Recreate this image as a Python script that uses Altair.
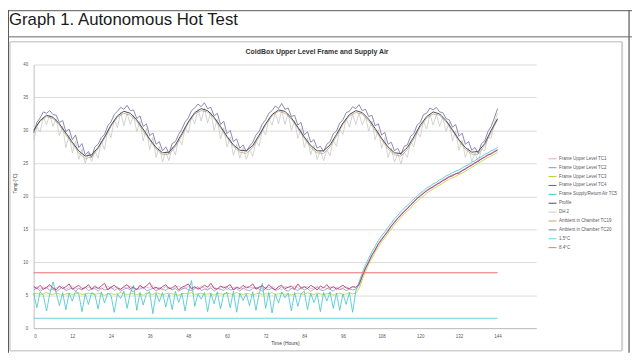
import altair as alt
import pandas as pd

# ---------------- data ----------------
HOURS = list(range(0, 145))          # hourly samples 0..144 h
HOURS_2 = list(range(0, 145, 2))     # 2-hourly samples
REF_HOURS = [0, 144]

TC1 = [6.1, 6.3, 5.9, 6.2, 6.0, 6.4, 5.8, 6.1, 6.3, 6.0,
       5.9, 6.2, 6.4, 6.0, 6.1, 5.8, 6.3, 6.2, 6.0, 6.5,
       6.1, 5.9, 6.2, 6.4, 6.0, 6.1, 6.3, 5.8, 6.2, 6.0,
       6.4, 6.1, 5.9, 6.3, 6.0, 6.2, 6.1, 6.5, 5.9, 6.2,
       6.0, 6.3, 6.1, 5.8, 6.2, 6.4, 6.0, 6.1, 6.3, 5.9,
       6.2, 6.0, 6.4, 6.1, 5.9, 6.3, 6.2, 6.0, 6.1, 6.4,
       5.8, 6.2, 6.1, 6.3, 6.0, 5.9, 6.4, 6.1, 6.2, 6.0,
       6.3, 5.9, 6.2, 6.1, 6.4, 6.0, 6.1, 5.8, 6.3, 6.2,
       6.0, 6.4, 6.1, 5.9, 6.2, 6.3, 6.0, 6.1, 6.4, 5.9,
       6.2, 6.0, 6.3, 6.1, 6.2, 5.9, 6.1, 6.3, 6.0, 6.2,
       6.1,
       6.7, 8.0, 9.2, 10.2, 11.1, 12.0, 12.8, 13.6, 14.2, 14.9,
       15.5, 16.2, 16.7, 17.3, 17.8, 18.3, 18.7, 19.3, 19.7, 20.2,
       20.5, 21.0, 21.2, 21.6, 21.8, 22.2, 22.4, 22.8, 23.0, 23.3,
       23.4, 23.7, 23.9, 24.3, 24.5, 24.9, 25.1, 25.5, 25.7, 26.1,
       26.3, 26.6, 26.8, 27.1]

TC2 = [5.8, 6.1, 5.6, 5.9, 6.2, 5.7, 6.0, 5.5, 5.9, 6.3,
       5.7, 5.9, 6.1, 5.6, 6.0, 5.8, 6.2, 5.7, 5.9, 6.0,
       5.6, 6.1, 5.8, 5.9, 6.3, 5.7, 6.0, 5.6, 5.9, 6.1,
       5.8, 5.5, 6.0, 5.9, 6.2, 5.7, 5.8, 6.1, 5.6, 6.0,
       5.9, 5.7, 6.2, 5.8, 6.0, 5.6, 5.9, 6.1, 5.8, 5.7,
       6.0, 6.3, 5.7, 5.9, 5.8, 6.1, 5.6, 6.0, 5.9, 5.7,
       6.2, 5.8, 5.9, 6.0, 5.6, 6.1, 5.8, 5.7, 6.0, 6.2,
       5.9, 5.6, 6.0, 5.8, 6.1, 5.7, 5.9, 6.3, 5.8, 5.6,
       6.0, 5.9, 5.7, 6.1, 5.8, 6.0, 5.6, 5.9, 6.2, 5.8,
       5.7, 6.0, 5.9, 5.6, 6.1, 5.8, 6.0, 5.7, 5.9, 5.8,
       5.9,
       6.5, 7.8, 9.0, 10.1, 11.0, 12.0, 12.7, 13.5, 14.1, 14.8,
       15.4, 16.1, 16.6, 17.2, 17.7, 18.2, 18.6, 19.2, 19.6, 20.1,
       20.4, 20.9, 21.1, 21.5, 21.7, 22.1, 22.3, 22.7, 22.9, 23.2,
       23.4, 23.6, 23.9, 24.2, 24.4, 24.8, 25.0, 25.4, 25.6, 26.0,
       26.2, 26.5, 26.7, 27.0]

TC3 = [5.2, 5.3, 5.1, 5.2, 5.4, 5.2, 5.1, 5.3, 5.2, 5.0,
       5.2, 5.3, 5.1, 5.2, 5.4, 5.1, 5.2, 5.3, 5.2, 5.1,
       5.3, 5.2, 5.0, 5.2, 5.3, 5.1, 5.2, 5.4, 5.2, 5.1,
       5.2, 5.3, 5.1, 5.2, 5.0, 5.3, 5.2, 5.1, 5.4, 5.2,
       5.1, 5.2, 5.3, 5.2, 5.1, 5.0, 5.2, 5.3, 5.2, 5.4,
       5.1, 5.2, 5.3, 5.1, 5.2, 5.2, 5.0, 5.3, 5.2, 5.1,
       5.3, 5.2, 5.1, 5.4, 5.2, 5.1, 5.3, 5.2, 5.0, 5.2,
       5.3, 5.1, 5.2, 5.2, 5.4, 5.1, 5.2, 5.3, 5.1, 5.2,
       5.0, 5.2, 5.3, 5.2, 5.1, 5.4, 5.2, 5.1, 5.3, 5.2,
       5.1, 5.2, 5.3, 5.0, 5.2, 5.3, 5.1, 5.2, 5.4, 5.2,
       5.3,
       6.0, 7.3, 8.6, 9.7, 10.6, 11.5, 12.3, 13.1, 13.7, 14.4,
       15.0, 15.7, 16.2, 16.8, 17.3, 17.8, 18.2, 18.8, 19.2, 19.7,
       20.0, 20.5, 20.8, 21.1, 21.4, 21.7, 22.0, 22.3, 22.6, 22.8,
       23.0, 23.3, 23.5, 23.8, 24.1, 24.4, 24.7, 25.0, 25.3, 25.6,
       25.9, 26.1, 26.4, 26.6]

TC4 = [6.3, 6.0, 6.5, 5.9, 6.2, 6.6, 6.1, 5.8, 6.4, 6.0,
       6.3, 6.7, 5.9, 6.2, 6.5, 6.0, 6.1, 6.6, 5.9, 6.3,
       6.0, 6.4, 6.8, 5.8, 6.2, 6.5, 6.1, 5.9, 6.3, 6.6,
       6.0, 6.2, 5.8, 6.5, 6.1, 6.4, 6.9, 6.0, 6.2, 5.9,
       6.3, 6.6, 6.0, 6.1, 6.5, 5.8, 6.2, 6.4, 6.7, 6.0,
       6.3, 5.9, 6.1, 6.5, 6.2, 6.8, 6.0, 5.9, 6.4, 6.1,
       6.3, 6.6, 5.8, 6.2, 6.0, 6.5, 6.1, 6.3, 6.7, 5.9,
       6.2, 6.4, 6.0, 6.6, 6.1, 5.8, 6.3, 6.5, 6.0, 6.2,
       6.4, 5.9, 6.7, 6.1, 6.3, 6.0, 6.5, 6.2, 5.8, 6.4,
       6.1, 6.6, 6.0, 6.3, 5.9, 6.2, 6.5, 6.1, 6.0, 6.3,
       6.2,
       6.6, 7.9, 9.1, 10.0, 11.1, 11.8, 12.8, 13.4, 14.1, 14.7,
       15.5, 16.0, 16.7, 17.1, 17.7, 18.1, 18.7, 19.1, 19.7, 20.0,
       20.5, 20.8, 21.2, 21.4, 21.8, 22.0, 22.4, 22.6, 23.0, 23.1,
       23.4, 23.5, 23.9, 24.1, 24.5, 24.7, 25.1, 25.3, 25.7, 25.9,
       26.3, 26.4, 26.8, 27.0]

TC5 = [5.3, 3.1, 5.5, 5.0, 2.6, 5.2, 7.0, 5.3, 3.4, 5.4,
       2.8, 5.3, 4.1, 5.6, 5.2, 2.5, 5.2, 3.6, 5.4, 5.1,
       2.9, 5.5, 3.8, 5.3, 5.0, 2.4, 5.2, 4.5, 5.6, 3.0,
       5.3, 6.5, 2.7, 5.4, 3.5, 5.2, 5.5, 2.2, 5.3, 4.0,
       5.4, 3.2, 5.2, 2.8, 5.6, 3.9, 5.3, 2.6, 5.5, 7.2,
       3.3, 5.2, 4.4, 5.4, 2.5, 5.3, 3.7, 5.5, 2.9, 5.2,
       5.4, 3.1, 5.6, 2.4, 5.3, 4.2, 5.2, 3.4, 5.5, 2.7,
       5.3, 6.8, 3.0, 5.4, 2.3, 5.2, 3.8, 5.5, 4.6, 5.3,
       2.6, 5.4, 3.3, 5.2, 5.6, 2.8, 5.3, 3.9, 5.2, 2.5,
       5.4, 4.1, 5.5, 3.0, 5.3, 2.7, 5.2, 3.6, 5.4, 2.4,
       5.6,
       7.0, 8.4, 9.6, 10.6, 11.6, 12.4, 13.3, 14.0, 14.6, 15.3,
       15.9, 16.6, 17.1, 17.7, 18.2, 18.6, 19.1, 19.6, 20.0, 20.5,
       20.8, 21.3, 21.5, 21.9, 22.1, 22.5, 22.7, 23.1, 23.3, 23.6,
       23.8, 24.0, 24.3, 24.6, 24.8, 25.2, 25.4, 25.8, 26.0, 26.4,
       26.6, 26.9, 27.1, 27.4]

PROFILE = [30.0, 31.5, 32.3, 32.0, 31.0, 29.6, 28.2, 26.9, 26.1, 26.3, 27.4, 29.0,
           30.8, 32.2, 32.9, 32.6, 31.6, 30.2, 28.7, 27.4, 26.6, 26.7, 27.8, 29.5,
           31.3, 32.7, 33.3, 33.0, 32.0, 30.6, 29.1, 27.8, 27.0, 26.9, 27.7, 29.3,
           31.0, 32.4, 33.1, 32.9, 31.9, 30.5, 29.0, 27.7, 26.9, 26.9, 27.8, 29.4,
           31.1, 32.4, 33.0, 32.7, 31.7, 30.3, 28.8, 27.5, 26.6, 26.5, 27.4, 29.0,
           30.8, 32.1, 32.8, 32.5, 31.5, 30.1, 28.6, 27.4, 26.7, 26.8, 28.0, 30.0,
           31.8]

DH2 = [28.5, 30.5, 29.8, 32.0, 30.9, 32.4, 30.6, 31.8, 29.2, 30.6,
       27.4, 29.3, 26.6, 28.4, 25.6, 27.2, 25.0, 26.6, 25.3, 26.9,
       25.8, 28.4, 27.1, 30.1, 28.9, 31.6, 30.4, 32.8, 30.7, 32.6,
       30.9, 32.3, 29.8, 31.4, 28.4, 30.3, 27.1, 28.9, 25.9, 27.6,
       25.2, 26.8, 25.4, 27.5, 26.3, 28.7, 27.8, 30.5, 29.6, 32.1,
       31.0, 33.2, 31.4, 33.4, 31.1, 32.8, 30.0, 31.7, 28.7, 30.4,
       27.5, 29.0, 26.2, 27.9, 25.8, 27.4, 25.6, 27.0, 26.1, 28.4,
       27.6, 30.2, 29.3, 31.8, 30.8, 32.7, 31.0, 33.1, 30.9, 32.6,
       30.0, 31.5, 28.8, 30.3, 27.4, 28.9, 26.3, 27.8, 25.6, 26.9,
       25.4, 27.0, 26.2, 28.5, 27.6, 30.1, 29.4, 31.8, 30.5, 32.5,
       30.9, 32.6, 30.8, 32.1, 29.9, 31.4, 28.6, 30.1, 27.3, 28.9,
       25.9, 27.3, 25.2, 26.5, 24.9, 26.7, 25.9, 28.3, 27.5, 29.8,
       29.0, 31.4, 30.2, 32.5, 30.8, 32.4, 30.6, 32.0, 29.8, 31.2,
       28.4, 29.9, 27.0, 28.5, 25.9, 27.3, 25.3, 26.5, 25.2, 27.1,
       26.9, 29.0, 28.8, 31.2, 32.6]

TC19 = [29.8, 31.4, 32.1, 31.8, 30.8, 29.3, 28.0, 26.6, 25.7, 26.0, 27.2, 28.8,
        30.6, 32.0, 32.6, 32.3, 31.4, 29.9, 28.5, 27.2, 26.3, 26.4, 27.5, 29.2,
        31.1, 32.5, 33.0, 32.8, 31.8, 30.4, 28.9, 27.6, 26.7, 26.5, 27.4, 29.0,
        30.8, 32.2, 32.9, 32.6, 31.7, 30.3, 28.8, 27.4, 26.6, 26.5, 27.5, 29.1,
        30.9, 32.2, 32.7, 32.5, 31.4, 30.0, 28.6, 27.2, 26.3, 26.1, 27.1, 28.7,
        30.5, 31.9, 32.5, 32.3, 31.3, 29.9, 28.4, 27.1, 26.4, 26.4, 27.7, 29.7,
        31.6]

TC20 = [29.6, 31.2, 31.9, 32.8, 32.6, 33.0, 32.4, 32.3, 31.2, 31.5,
        29.8, 30.2, 28.6, 29.3, 27.4, 28.0, 26.3, 26.8, 25.9, 27.5,
        27.9, 28.9, 29.4, 30.7, 31.3, 32.4, 32.9, 33.5, 33.2, 33.8,
        33.0, 33.1, 31.8, 32.2, 30.6, 31.0, 29.2, 29.6, 27.9, 28.3,
        26.9, 27.5, 26.5, 28.0, 28.3, 29.4, 30.2, 31.3, 31.9, 33.0,
        33.4, 34.0, 33.6, 34.2, 33.3, 33.5, 32.2, 32.6, 30.9, 31.4,
        29.5, 30.0, 28.3, 28.7, 27.3, 27.8, 26.8, 27.6, 28.2, 29.3,
        29.9, 31.0, 31.6, 32.6, 33.0, 33.7, 33.3, 34.1, 33.2, 33.4,
        32.1, 32.3, 30.8, 31.2, 29.3, 29.8, 28.2, 28.6, 27.3, 27.6,
        26.8, 27.9, 28.3, 29.5, 29.9, 31.1, 31.6, 32.7, 32.9, 33.6,
        33.3, 33.9, 33.0, 33.2, 32.1, 32.3, 30.7, 31.0, 29.3, 29.7,
        27.9, 28.2, 26.9, 27.3, 26.3, 27.6, 27.8, 29.1, 29.5, 30.8,
        31.2, 32.4, 32.6, 33.4, 33.1, 33.5, 32.8, 32.7, 31.8, 31.6,
        30.5, 30.9, 29.1, 29.6, 27.9, 28.3, 27.0, 27.4, 26.5, 28.0,
        28.4, 29.8, 30.6, 31.9, 33.3]

REF_LOW = [1.5, 1.5]
REF_HIGH = [8.4, 8.4]

SERIES = ["Frame Upper Level TC1", "Frame Upper Level TC2", "Frame Upper Level TC3",
          "Frame Upper Level TC4", "Frame Supply/Return Air TC5", "Profile", "DH 2",
          "Ambient in Chamber TC19", "Ambient in Chamber TC20", "1.5°C", "8.4°C"]
COLORS = ["#f4a7b9", "#9090c8", "#b5d334", "#b03a74", "#3cc4c8", "#4a4a5c", "#c8c8c8",
          "#c0a878", "#7c7cac", "#66d4e4", "#f07070"]

X_TICKS = [0, 12, 24, 36, 48, 60, 72, 84, 96, 108, 120, 132, 144]
Y_TICKS = [0, 5, 10, 15, 20, 25, 30, 35, 40]

# ---------------- table ----------------
rows = []
def add(name, ts, vs):
    for t, v in zip(ts, vs):
        rows.append({"series": name, "t": t, "v": v})

add(SERIES[0], HOURS, TC1)
add(SERIES[1], HOURS, TC2)
add(SERIES[2], HOURS, TC3)
add(SERIES[3], HOURS, TC4)
add(SERIES[4], HOURS, TC5)
add(SERIES[5], HOURS_2, PROFILE)
add(SERIES[6], HOURS, DH2)
add(SERIES[7], HOURS_2, TC19)
add(SERIES[8], HOURS, TC20)
add(SERIES[9], REF_HOURS, REF_LOW)
add(SERIES[10], REF_HOURS, REF_HIGH)
df = pd.DataFrame(rows)

FONT = "Liberation Sans"

xenc = alt.X("t:Q", scale=alt.Scale(domain=[0, 156], nice=False, zero=False),
             axis=alt.Axis(values=X_TICKS, grid=False, ticks=False, labelFontSize=4.5,
                           labelColor="#595959", labelFont=FONT, labelPadding=6,
                           domainColor="#bfbfbf", title="Time (Hours)", titleFont=FONT,
                           titleFontSize=5, titleFontWeight="normal", titleColor="#404040",
                           titlePadding=2))
yenc = alt.Y("v:Q", scale=alt.Scale(domain=[0, 40], nice=False),
             axis=alt.Axis(values=Y_TICKS, grid=True, gridColor="#d9d9d9", gridWidth=1,
                           ticks=False, labelFontSize=4.5, labelColor="#595959",
                           labelFont=FONT, labelPadding=6, domainColor="#bfbfbf",
                           title="Temp (°C)", titleFont=FONT, titleFontSize=4.5,
                           titleFontWeight="normal", titleColor="#404040",
                           titleX=-16, titleY=120))
cenc = alt.Color("series:N", scale=alt.Scale(domain=SERIES, range=COLORS),
                 legend=alt.Legend(title=None, orient="none", legendX=521, legendY=91,
                                   symbolType="stroke", symbolSize=64, symbolStrokeWidth=1,
                                   labelFontSize=4.5, labelColor="#595959", labelFont=FONT,
                                   rowPadding=2, labelOffset=2, padding=0, labelLimit=200))

WIDTHS = {SERIES[0]: 0.8, SERIES[1]: 0.8, SERIES[2]: 0.8, SERIES[3]: 0.9, SERIES[4]: 0.8,
          SERIES[5]: 1.0, SERIES[6]: 0.8, SERIES[7]: 0.8, SERIES[8]: 0.9,
          SERIES[9]: 1.0, SERIES[10]: 1.0}
DRAW_ORDER = [SERIES[6], SERIES[7], SERIES[8], SERIES[5], SERIES[0], SERIES[1],
              SERIES[2], SERIES[4], SERIES[3], SERIES[9], SERIES[10]]

layers = []
for s in DRAW_ORDER:
    layers.append(
        alt.Chart(df).transform_filter(alt.datum.series == s)
        .mark_line(strokeWidth=WIDTHS[s])
        .encode(x=xenc, y=yenc, color=cenc)
    )

one = alt.Data(values=[{"k": 1}])

def hrule(x1, x2, y, color, w):
    return alt.Chart(one).mark_rule(color=color, strokeWidth=w).encode(
        x=alt.value(x1), x2=alt.value(x2), y=alt.value(y))

def vrule(x, y1, y2, color, w):
    return alt.Chart(one).mark_rule(color=color, strokeWidth=w).encode(
        x=alt.value(x), y=alt.value(y1), y2=alt.value(y2))

deco = [
    # outer frame
    hrule(-26, 606, -54.5, "#555555", 1),
    vrule(-25.5, -55, 292, "#555555", 1),
    vrule(603, -55, 292, "#555555", 1.2),
    hrule(-26, 606, -28, "#666666", 1),
    # inner chart box
    hrule(-24, 596, -23, "#d0d0d0", 1.5),
    hrule(-24, 596, 290, "#d0d0d0", 1.5),
    vrule(-24, -23, 290, "#d0d0d0", 1.5),
    vrule(596, -23, 290, "#d0d0d0", 2),
]

header = alt.Chart(one).mark_text(
    text="Graph 1. Autonomous Hot Test", align="left", baseline="middle",
    fontSize=17, font=FONT, color="#1a1a1a").encode(x=alt.value(-25), y=alt.value(-45))
title = alt.Chart(one).mark_text(
    text="ColdBox Upper Level Frame and Supply Air", align="center", baseline="middle",
    fontSize=7, fontWeight="bold", font=FONT, color="#333333").encode(
    x=alt.value(287), y=alt.value(-13))

chart = alt.layer(*deco, *layers, header, title).properties(
    width=509, height=267,
    padding={"left": 26, "top": 55, "right": 97, "bottom": 25},
    autosize=alt.AutoSizeParams(type="none"),
    background="white",
).configure_view(strokeWidth=0)

chart.save("out.html", embed_options={"renderer": "svg", "actions": False})
